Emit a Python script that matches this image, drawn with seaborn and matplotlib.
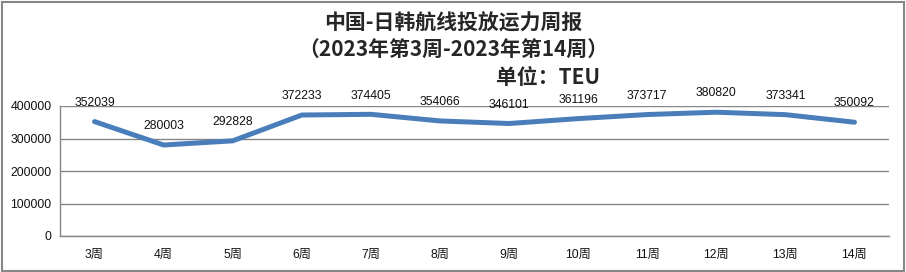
import matplotlib
matplotlib.use("Agg")
import matplotlib.pyplot as plt
import seaborn as sns
import pandas as pd
import numpy as np
from matplotlib.patches import Rectangle

weeks = ["3周", "4周", "5周", "6周", "7周", "8周", "9周", "10周", "11周", "12周", "13周", "14周"]
capacity = [352039, 280003, 292828, 372233, 374405, 354066, 346101, 361196, 373717, 380820, 373341, 350092]
yticks = [0, 100000, 200000, 300000, 400000]

sns.set_theme(style="white")
plt.rcParams["font.family"] = ["Liberation Sans", "Noto Sans CJK SC", "DejaVu Sans"]

df = pd.DataFrame({"week": weeks, "cap": capacity, "x": np.arange(len(weeks))})

fig = plt.figure(figsize=(9.06, 2.72), dpi=100)
ax = fig.add_axes([60/906, 1-236/272, (889-60)/906, (236-106)/272])

sns.lineplot(data=df, x="x", y="cap", ax=ax, color="#4A7EBB", linewidth=3.6,
             solid_joinstyle="round", solid_capstyle="round")

ax.set_xlim(-0.5, len(weeks)-0.5)
ax.set_ylim(0, 400000)
ax.set_yticks(yticks)
ax.set_yticklabels([str(v) for v in yticks], fontsize=8.8, color="#111111")
ax.set_xticks(df["x"])
ax.set_xticklabels(weeks, fontsize=8.8, color="#111111")
ax.set_xticks(np.arange(-0.5, len(weeks), 1.0), minor=True)
ax.tick_params(axis="x", which="major", length=0, pad=9)
ax.tick_params(axis="x", which="minor", length=5, width=1, color="#868686", direction="out")
ax.tick_params(axis="y", which="major", length=4, width=1, color="#868686", direction="out", pad=2)
ax.set_xlabel("")
ax.set_ylabel("")
for s in ["top", "right"]:
    ax.spines[s].set_visible(False)
for s in ["left", "bottom"]:
    ax.spines[s].set_color("#868686")
    ax.spines[s].set_linewidth(1)
ax.yaxis.grid(True, color="#868686", linewidth=1)
ax.set_axisbelow(True)

for xi, v in zip(df["x"], capacity):
    ax.annotate(str(v), (xi, v), xytext=(0, 13.5), textcoords="offset points",
                ha="center", va="center", fontsize=8.8, color="#111111")

title_font = dict(fontsize=15, fontweight="bold", family=["Noto Sans CJK SC", "DejaVu Sans"])
fig.text(453/906, 1-23/272, "中国-日韩航线投放运力周报", ha="center", va="center", **title_font)
fig.text(453/906, 1-50/272, "（2023年第3周-2023年第14周）", ha="center", va="center", **title_font)
fig.text(548/906, 1-77/272, "单位：TEU", ha="center", va="center", **title_font)

fig.patches.append(Rectangle((1.5/906, 1.5/272), 902/906, 268.5/272, transform=fig.transFigure,
                             fill=False, edgecolor="#868686", linewidth=1.5))

fig.savefig("out.png", dpi=100)
